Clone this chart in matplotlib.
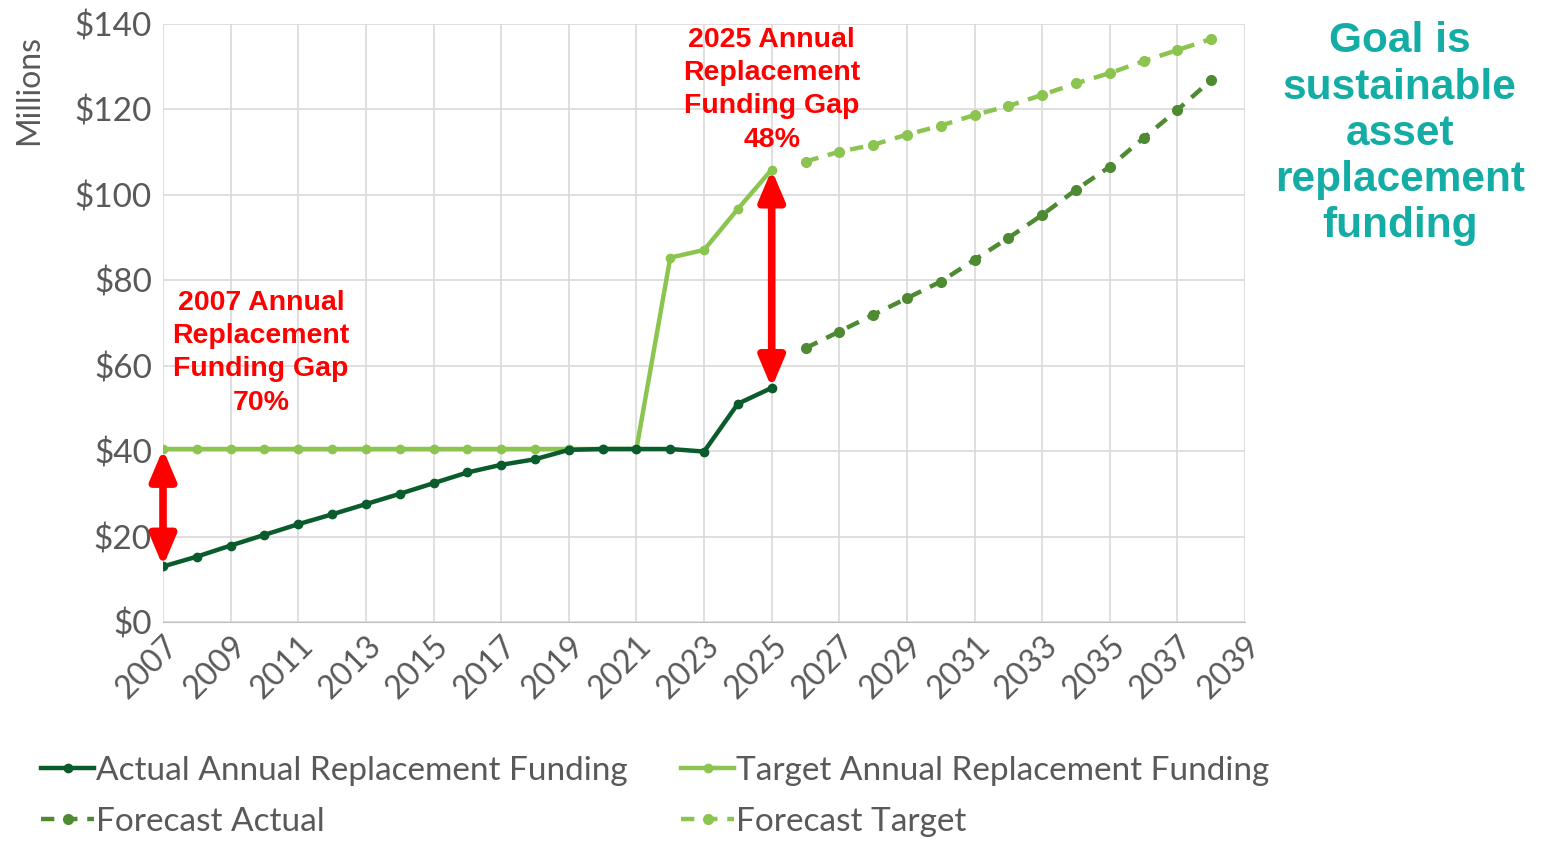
import matplotlib
matplotlib.use("Agg")
import matplotlib.pyplot as plt

plt.rcParams["font.family"] = ["Lato", "DejaVu Sans"]

# ---- data ($ millions) ----
actual_years = list(range(2007, 2026))
actual_vals = [13.0, 15.3, 17.9, 20.4, 22.9, 25.2, 27.6, 30.0, 32.5, 35.0,
               36.8, 38.1, 40.3, 40.5, 40.5, 40.5, 39.9, 51.1, 54.8]
target_years = list(range(2007, 2026))
target_vals = [40.5] * 15 + [85.3, 87.1, 96.7, 105.9]
forecast_years = list(range(2026, 2039))
forecast_actual = [64.1, 68.0, 71.9, 75.8, 79.7, 84.8, 89.9, 95.3, 101.2,
                   106.6, 113.3, 119.9, 126.9]
forecast_target = [107.8, 110.1, 111.7, 114.1, 116.2, 118.7, 120.8, 123.4,
                   126.1, 128.5, 131.3, 133.9, 136.5]

DARK = "#0A5C2C"
LIGHT = "#8CC450"
MID = "#4E8A32"
RED = "#FF0000"
GREY = "#595959"

fig = plt.figure(figsize=(15.45, 8.41), dpi=100)
ax = fig.add_axes([0.1055, 0.2604, 0.7004, 0.7111])

h_act, = ax.plot(actual_years, actual_vals, color=DARK, lw=3.2, marker="o", ms=6,
                 label="Actual Annual Replacement Funding", zorder=4)
h_tgt, = ax.plot(target_years, target_vals, color=LIGHT, lw=3.2, marker="o", ms=6,
                 label="Target Annual Replacement Funding", zorder=3)
h_fa, = ax.plot(forecast_years, forecast_actual, color=MID, lw=3.2,
                ls=(0, (3, 2.2)), marker="o", ms=7, label="Forecast Actual", zorder=3)
h_ft, = ax.plot(forecast_years, forecast_target, color=LIGHT, lw=3.2,
                ls=(0, (3, 2.2)), marker="o", ms=7, label="Forecast Target", zorder=3)

# gap arrows
arrow = dict(arrowstyle="<|-|>,head_length=1.3,head_width=0.55", color=RED,
             lw=5.5, shrinkA=0, shrinkB=0, mutation_scale=14)
ax.annotate("", xy=(2007, actual_vals[0]), xytext=(2007, target_vals[0]),
            arrowprops=arrow, zorder=5)
ax.annotate("", xy=(2025, actual_vals[-1]), xytext=(2025, target_vals[-1]),
            arrowprops=arrow, zorder=5)

txt = dict(color=RED, fontsize=20.5, fontweight="bold", ha="center", va="center",
           family=["Liberation Sans"], linespacing=1.36)
ax.text(2009.9, 63.0, "2007 Annual\nReplacement\nFunding Gap\n70%", **txt)
ax.text(2025.0, 124.6, "2025 Annual\nReplacement\nFunding Gap\n48%", **txt)

ax.set_xlim(2007, 2039)
ax.set_ylim(0, 140)
ax.set_xticks(range(2007, 2040, 2))
ax.set_yticks(range(0, 141, 20))
ax.set_yticklabels([f"${v}" for v in range(0, 141, 20)])
ax.tick_params(axis="x", labelrotation=45, labelsize=23, colors=GREY, length=0, pad=6)
ax.tick_params(axis="y", labelsize=24, colors=GREY, length=0, pad=8)
for lab in ax.get_xticklabels():
    lab.set_ha("right")
    lab.set_rotation_mode("anchor")
ax.grid(True, color="#D9D9D9", lw=1.2)
ax.set_axisbelow(True)
for s in ("top", "right", "left"):
    ax.spines[s].set_visible(False)
ax.spines["bottom"].set_color("#BFBFBF")

fig.text(0.019, 0.893, "Millions", rotation=90, fontsize=23, color=GREY,
         ha="center", va="center")

fig.text(0.906, 0.841, "Goal is\nsustainable\nasset\nreplacement\nfunding",
         color="#14ADA5", fontsize=30.5, fontweight="bold", ha="center",
         va="center", family=["Liberation Sans"], linespacing=1.2)

fig.legend(handles=[h_act, h_fa, h_tgt, h_ft], loc="upper left",
           bbox_to_anchor=(0.018, 0.117), ncol=2, frameon=False, fontsize=24,
           labelcolor=GREY, handlelength=1.6, handletextpad=0.05,
           columnspacing=1.6, labelspacing=0.62, borderaxespad=0)

fig.savefig("out.png", dpi=100)
